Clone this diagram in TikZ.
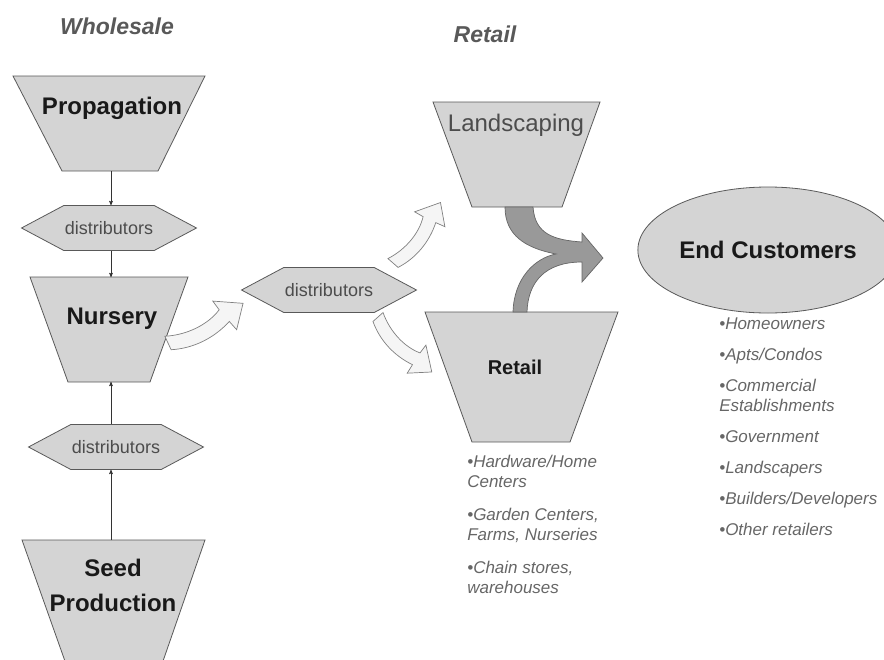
\documentclass[tikz,border=0pt]{standalone}
\usepackage{fontspec}
\setmainfont{Liberation Sans}
\usetikzlibrary{arrows, shapes, shapes.symbols}

\tikzset{
	funnel/.style={draw=black!65, fill=black!17, line width=.8pt},
	hexa/.style={signal, signal to=east and west, signal pointer angle=56, draw=black!65, fill=black!17, line width=.8pt,
		minimum width=175pt, minimum height=45pt, inner sep=0pt, font=\fontsize{18}{20}\selectfont, text=black!70},
	title/.style={font=\fontsize{23}{26}\selectfont\bfseries\itshape, text=black!65},
	big/.style={font=\fontsize{24}{35}\selectfont\bfseries, text=black!90, align=center},
	bullets/.style={font=\fontsize{17}{20}\selectfont\itshape, text=black!60, align=left, anchor=north west, inner sep=0pt},
	fatarrow/.style={draw=black!50, fill=black!4, line width=.7pt},
	pics/bentarrow/.style={code={
		\draw[fatarrow] (0,-7) .. controls (20,1) and (42,0) .. (57,-8) -- (55,-18) -- (80,-4)
			-- (64,16) -- (61,6) .. controls (42,14) and (20,15) .. (0,7) -- cycle;
	}}
}

\begin{document}
\begin{tikzpicture}[x=1pt, y=-1pt, ->, >=stealth', semithick]
		\useasboundingbox (0,0) rectangle (884,659);
		
		% wholesale column
		\draw[funnel, -] (13,76) -- (205,76) -- (158,171) -- (62,171) -- cycle;
		\draw[funnel, -] (30,277) -- (188,277) -- (150,382) -- (68,382) -- cycle;
		\draw[funnel, -] (22,540) -- (205,540) -- (162,664) -- (66,664) -- cycle;
		\coordinate (prop-b) at (111,171);
		\coordinate (nurs-t) at (111,277);
		\coordinate (nurs-b) at (111,382);
		\coordinate (seed-t) at (111,540);
		
		\node[title] (wholesale) at (117,26) {Wholesale};
		\node[big] (prop) at (112,108) {Propagation};
		\node[big] (nurs) at (112,319) {Nursery};
		\node[big] (seed) at (113,585) {Seed\\Production};
		
		\node[hexa] (dist1) at (109,228) {distributors};
		\node[hexa] (dist2) at (116,447) {distributors};
		\node[hexa] (dist3) at (329,290) {distributors};
		
		\draw[black!80] (prop-b) -- (prop-b |- dist1.north);
		\draw[black!80] (prop-b |- dist1.south) -- (nurs-t);
		\draw[black!80] (seed-t) -- (seed-t |- dist2.south);
		\draw[black!80] (seed-t |- dist2.north) -- (nurs-b);
		
		% retail column
		\draw[funnel, -] (433,102) -- (600,102) -- (562,207) -- (472,207) -- cycle;
		\draw[funnel, -] (425,312) -- (618,312) -- (570,442) -- (472,442) -- cycle;
		\node[title] (retailtitle) at (485,34) {Retail};
		\node[font=\fontsize{24}{28}\selectfont, text=black!70] (land) at (516,125) {Landscaping};
		\node[font=\fontsize{20}{24}\selectfont\bfseries, text=black!90] (retail) at (515,367) {Retail};
		
		\pic[rotate=25, scale=1.06] at (168,343) {bentarrow};
		\pic[rotate=49, scale=.96] at (393,263) {bentarrow};
		\pic[rotate=-48.5, scale=.96] at (378,317) {bentarrow};
		
		% merging arrow to the customers
		\draw[-, fill=black!40, draw=black!60, line width=.7pt] (505,207) -- (533,207)
			.. controls (535,235) and (555,240) .. (582,242) -- (582,233) -- (603,258) -- (582,282) -- (582,262)
			.. controls (545,262) and (528,282) .. (527,312) -- (513,312)
			.. controls (514,278) and (535,258) .. (556,254)
			.. controls (525,248) and (505,235) .. (505,207) -- cycle;
		
		\node[ellipse, draw=black!65, fill=black!17, line width=.8pt, minimum width=230pt, minimum height=126pt,
			font=\fontsize{24}{28}\selectfont\bfseries, text=black!90] (endc) at (768,250) {End Customers};
		
		\node[bullets] (retlist) at (467,455) {•Hardware/Home\\Centers\\[13pt]•Garden Centers,\\Farms, Nurseries\\[13pt]•Chain stores,\\warehouses};
		\node[bullets] (endlist) at (719,317) {•Homeowners\\[11pt]•Apts/Condos\\[11pt]•Commercial\\Establishments\\[11pt]•Government\\[11pt]•Landscapers\\[11pt]•Builders/Developers\\[11pt]•Other retailers};
	\end{tikzpicture}
\end{document}
